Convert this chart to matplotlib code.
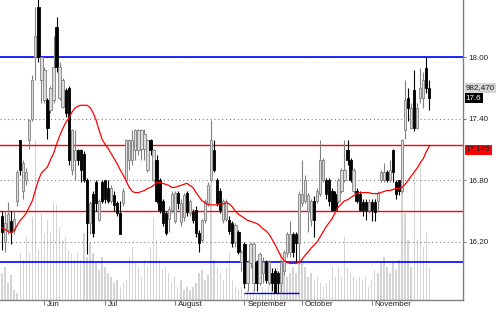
import matplotlib.pyplot as plt
from matplotlib.transforms import ScaledTranslation

plt.rcParams['font.family'] = ['Liberation Sans', 'DejaVu Sans']

# daily bars, oldest first
OPEN = [16.45, 16.20, 16.32, 16.40, 16.32, 16.60, 17.19, 16.70, 16.80, 17.19,
        17.40, 18.00, 18.49, 17.78, 17.58, 17.58, 17.48, 17.58, 18.29, 17.60,
        17.51, 17.68, 17.70, 16.90, 17.00, 17.09, 17.09, 17.06, 16.80, 16.38,
        16.67, 16.78, 16.41, 16.78, 16.80, 16.72, 16.60, 16.66, 16.58, 16.48,
        16.58, 16.80, 17.00, 17.00, 17.09, 17.09, 17.10, 17.10, 16.90, 17.19,
        16.80, 17.00, 16.80, 16.60, 16.48, 16.42, 16.51, 16.40, 16.68, 16.39,
        16.44, 16.68, 16.48, 16.49, 16.51, 16.29, 16.22, 16.41, 16.58, 16.80,
        17.09, 16.80, 16.70, 16.41, 16.42, 16.41, 16.38, 16.20, 16.30, 16.00,
        16.18, 15.80, 15.99, 15.80, 16.00, 15.80, 15.90, 16.00, 15.80, 15.90,
        15.92, 15.90, 15.80, 15.92, 16.09, 16.10, 16.28, 16.28, 16.19, 16.58,
        16.60, 16.50, 16.41, 16.60, 16.60, 16.67, 16.80, 16.80, 16.80, 16.70,
        16.67, 16.60, 16.70, 16.80, 17.09, 17.00, 16.70, 16.70, 16.67, 16.59,
        16.59, 16.51, 16.59, 16.59, 16.60, 16.80, 16.80, 16.88, 16.80, 17.09,
        16.78, 16.80, 16.70, 17.29, 17.60, 17.31, 17.68, 17.31, 17.60, 17.60,
        17.89, 17.70]
HIGH = [16.50, 16.50, 16.59, 16.50, 16.50, 16.90, 17.19, 17.00, 16.92, 17.40,
        17.82, 18.49, 18.56, 18.00, 17.90, 17.60, 17.72, 18.20, 18.39, 17.95,
        17.80, 17.70, 17.72, 17.30, 17.29, 17.10, 17.10, 17.08, 16.82, 16.60,
        16.70, 16.80, 16.62, 16.80, 16.80, 16.80, 16.75, 16.70, 16.60, 16.60,
        16.72, 17.20, 17.20, 17.29, 17.30, 17.30, 17.30, 17.30, 17.20, 17.20,
        17.10, 17.05, 16.82, 16.62, 16.50, 16.55, 16.70, 16.70, 16.70, 16.62,
        16.68, 16.70, 16.62, 16.52, 16.55, 16.32, 16.42, 16.62, 16.78, 17.39,
        17.19, 16.82, 16.72, 16.62, 16.62, 16.45, 16.40, 16.38, 16.32, 16.12,
        16.20, 16.02, 16.20, 16.20, 16.02, 16.10, 16.05, 16.02, 16.02, 15.95,
        15.95, 15.92, 16.02, 16.12, 16.30, 16.40, 16.30, 16.30, 16.70, 17.00,
        16.85, 16.68, 16.62, 16.65, 16.72, 17.19, 17.02, 16.82, 16.82, 16.72,
        16.70, 16.82, 16.92, 17.19, 17.19, 17.02, 16.92, 16.72, 16.70, 16.62,
        16.62, 16.62, 16.62, 16.62, 16.70, 16.90, 16.97, 16.90, 17.00, 17.10,
        16.80, 16.80, 17.20, 17.78, 17.70, 17.55, 17.87, 17.55, 17.89, 17.85,
        18.00, 17.78]
LOW = [16.12, 16.10, 16.28, 16.18, 16.28, 16.55, 16.85, 16.62, 16.75, 17.10,
       17.38, 17.78, 17.95, 17.55, 17.55, 17.20, 17.45, 17.55, 17.85, 17.58,
       17.50, 17.42, 16.95, 16.85, 16.80, 16.95, 16.78, 16.78, 16.08, 16.28,
       16.25, 16.50, 16.40, 16.58, 16.58, 16.58, 16.58, 16.50, 16.45, 16.28,
       16.55, 16.78, 16.90, 16.95, 17.00, 17.05, 17.00, 17.00, 16.88, 17.05,
       16.78, 16.58, 16.48, 16.35, 16.27, 16.30, 16.48, 16.38, 16.52, 16.35,
       16.40, 16.45, 16.45, 16.38, 16.25, 16.10, 16.20, 16.38, 16.55, 16.78,
       16.88, 16.55, 16.48, 16.38, 16.40, 16.28, 16.15, 16.15, 16.08, 15.92,
       15.75, 15.72, 15.95, 15.72, 15.72, 15.78, 15.80, 15.80, 15.78, 15.72,
       15.70, 15.70, 15.70, 15.88, 16.05, 16.05, 16.05, 16.00, 15.98, 16.55,
       16.58, 16.30, 16.35, 16.25, 16.58, 16.65, 16.78, 16.62, 16.55, 16.50,
       16.50, 16.58, 16.68, 16.78, 16.95, 16.78, 16.68, 16.58, 16.50, 16.45,
       16.41, 16.48, 16.40, 16.40, 16.50, 16.78, 16.78, 16.78, 16.78, 16.78,
       16.62, 16.66, 16.68, 17.20, 17.38, 17.30, 17.28, 17.30, 17.55, 17.50,
       17.65, 17.48]
CLOSE = [16.30, 16.38, 16.47, 16.30, 16.42, 16.88, 16.90, 16.97, 16.88, 17.39,
         17.78, 18.20, 18.00, 18.00, 17.87, 17.31, 17.70, 17.90, 17.90, 17.90,
         17.78, 17.45, 17.00, 17.29, 17.09, 17.00, 16.90, 16.80, 16.38, 16.58,
         16.29, 16.58, 16.60, 16.60, 16.62, 16.60, 16.72, 16.56, 16.48, 16.28,
         16.70, 17.19, 17.19, 17.19, 17.29, 17.29, 17.29, 17.25, 17.19, 17.09,
         17.09, 16.60, 16.51, 16.38, 16.29, 16.52, 16.67, 16.68, 16.58, 16.58,
         16.66, 16.49, 16.60, 16.41, 16.29, 16.19, 16.41, 16.60, 16.75, 17.19,
         16.90, 16.58, 16.51, 16.60, 16.60, 16.31, 16.19, 16.36, 16.10, 16.10,
         15.80, 16.00, 16.18, 16.18, 15.80, 16.08, 16.00, 15.83, 16.00, 15.80,
         15.70, 15.80, 16.00, 16.10, 16.28, 16.28, 16.10, 16.19, 16.67, 16.67,
         16.80, 16.66, 16.60, 16.41, 16.70, 17.00, 17.00, 16.67, 16.60, 16.51,
         16.51, 16.80, 16.90, 16.90, 17.00, 16.80, 16.90, 16.60, 16.51, 16.51,
         16.51, 16.59, 16.51, 16.49, 16.68, 16.88, 16.88, 16.80, 16.90, 16.88,
         16.67, 16.70, 17.19, 17.58, 17.50, 17.50, 17.31, 17.50, 17.70, 17.78,
         17.70, 17.60]
# volume in thousands of shares
VOLUME = [270, 330, 170, 250, 100, 70, 470, 400, 630, 470,
          830, 1600, 500, 870, 670, 800, 670, 970, 950, 730,
          600, 630, 500, 470, 400, 470, 400, 670, 430, 570,
          470, 370, 300, 430, 330, 270, 230, 170, 200, 130,
          170, 200, 430, 530, 370, 330, 230, 400, 330, 530,
          830, 600, 400, 300, 330, 270, 170, 230, 130, 200,
          100, 130, 100, 130, 170, 270, 300, 200, 250, 1170,
          400, 330, 270, 200, 330, 470, 200, 130, 100, 130,
          70, 100, 70, 100, 50, 70, 130, 100, 130, 200,
          200, 330, 470, 430, 230, 270, 330, 270, 370, 400,
          330, 230, 270, 200, 230, 170, 130, 170, 200, 330,
          230, 330, 230, 630, 330, 270, 230, 200, 230, 200,
          230, 130, 200, 300, 270, 370, 430, 330, 270, 370,
          300, 400, 1130, 870, 600, 330, 1300, 600, 1350, 530,
          670, 330]
# moving average as drawn on the chart
MA = [16.34, 16.32, 16.30, 16.29, 16.31, 16.36, 16.41, 16.44, 16.48, 16.54,
      16.60, 16.70, 16.80, 16.87, 16.90, 16.93, 17.00, 17.06, 17.15, 17.23,
      17.30, 17.36, 17.40, 17.46, 17.50, 17.52, 17.53, 17.53, 17.53, 17.51,
      17.46, 17.39, 17.29, 17.20, 17.15, 17.11, 17.06, 17.01, 16.96, 16.90,
      16.85, 16.79, 16.73, 16.69, 16.68, 16.68, 16.69, 16.70, 16.72, 16.73,
      16.75, 16.78, 16.78, 16.77, 16.76, 16.75, 16.73, 16.73, 16.74, 16.75,
      16.76, 16.77, 16.75, 16.73, 16.68, 16.64, 16.60, 16.58, 16.56, 16.56,
      16.56, 16.56, 16.57, 16.57, 16.58, 16.57, 16.54, 16.50, 16.47, 16.45,
      16.43, 16.41, 16.40, 16.39, 16.38, 16.36, 16.33, 16.31, 16.28, 16.23,
      16.18, 16.12, 16.06, 16.02, 16.00, 15.99, 15.99, 15.99, 16.00, 16.03,
      16.07, 16.10, 16.14, 16.17, 16.20, 16.25, 16.30, 16.35, 16.39, 16.43,
      16.49, 16.54, 16.57, 16.60, 16.61, 16.63, 16.65, 16.67, 16.68, 16.68,
      16.68, 16.68, 16.67, 16.67, 16.67, 16.68, 16.69, 16.70, 16.70, 16.71,
      16.72, 16.72, 16.73, 16.76, 16.80, 16.84, 16.88, 16.92, 16.97, 17.01,
      17.08, 17.13]

MONTHS = ['Jun', 'Jul', 'August', 'September', 'October', 'November']
MONTH_IDX = [14, 34, 57, 80, 99, 122]
PRICE_TICKS = [16.20, 16.80, 17.40, 18.00]
BLUE_LEVELS = [18.00, 16.00]
RED_LEVELS = [17.145, 16.50]
SUPPORT = 15.70
SUPPORT_FROM, SUPPORT_TO = 80, 98
LAST_VOLUME = '982,470'

GRAY = '#808080'

fig = plt.figure(figsize=(5, 3.12), dpi=100)
ax = fig.add_axes([0, 12 / 312, 463 / 500, 300 / 312])
axv = ax.twinx()
ax.set_zorder(axv.get_zorder() + 1)
ax.patch.set_visible(False)

n = len(CLOSE)
x = list(range(n))

# volume underneath
axv.bar(x, VOLUME, width=0.45, color='#d4d4d4', linewidth=0)
axv.set_ylim(0, 3000)
axv.set_yticks([])
for s in axv.spines.values():
    s.set_visible(False)

# levels
for lv in BLUE_LEVELS:
    ax.axhline(lv, color='#0000ff', lw=1.2, zorder=1.5)
for lv in RED_LEVELS:
    ax.axhline(lv, color='#ff0000', lw=1.0, zorder=1.5)
ax.hlines(SUPPORT, SUPPORT_FROM, SUPPORT_TO, color='#0000ff', lw=1.0, zorder=1.5)

# candles
up = [c >= o for o, c in zip(OPEN, CLOSE)]
wick_col = [GRAY if u else 'black' for u in up]
ax.vlines(x, LOW, HIGH, colors=wick_col, lw=0.8, zorder=2)
ax.bar(x, [c - o for o, c in zip(OPEN, CLOSE)], bottom=OPEN, width=0.75,
       color=['#dcdcdc' if u else 'black' for u in up],
       edgecolor=wick_col, linewidth=0.6, zorder=2.5)

ax.plot(x, MA, color='#ff0000', lw=0.9, zorder=4)

ax.set_xlim(-0.66, 152.1)
ax.set_ylim(15.634, 18.555)

ax.grid(axis='y', color=GRAY, linestyle=(0, (1, 2.5)), lw=0.8)
ax.set_axisbelow(True)

for side in ['top', 'left']:
    ax.spines[side].set_visible(False)
for side in ['right', 'bottom']:
    ax.spines[side].set_color(GRAY)
    ax.spines[side].set_linewidth(1.0)

ax.yaxis.tick_right()
ax.set_yticks(PRICE_TICKS, ['%.2f' % t for t in PRICE_TICKS])
ax.tick_params(axis='y', length=2, pad=2, labelsize=5.8, colors=GRAY,
               labelcolor='#202020')

ax.set_xticks(MONTH_IDX, MONTHS)
ax.tick_params(axis='x', length=3.5, pad=-3, labelsize=5.8, colors=GRAY,
               labelcolor='#202020')
for lbl in ax.get_xticklabels():
    lbl.set_horizontalalignment('left')
    lbl.set_transform(lbl.get_transform() + ScaledTranslation(2 / 72, 0, fig.dpi_scale_trans))

# value boxes on the right
tr = ax.get_yaxis_transform()
ax.text(1.006, 17.70, LAST_VOLUME, transform=tr, fontsize=5.8, va='center', ha='left',
        color='#202020', bbox=dict(boxstyle='square,pad=0.15', fc='#d4d4d4', ec='none'))
ax.text(1.006, CLOSE[-1], '%.1f' % CLOSE[-1], transform=tr, fontsize=5.8, va='center',
        ha='left', color='white', bbox=dict(boxstyle='square,pad=0.15', fc='black', ec='none'))
ax.text(1.006, RED_LEVELS[0] - 0.05, '%.3f' % RED_LEVELS[0], transform=tr, fontsize=5.8,
        va='center', ha='left', color='#202020',
        bbox=dict(boxstyle='square,pad=0.15', fc='#ff0000', ec='none'))

fig.savefig('out.png', dpi=100)
